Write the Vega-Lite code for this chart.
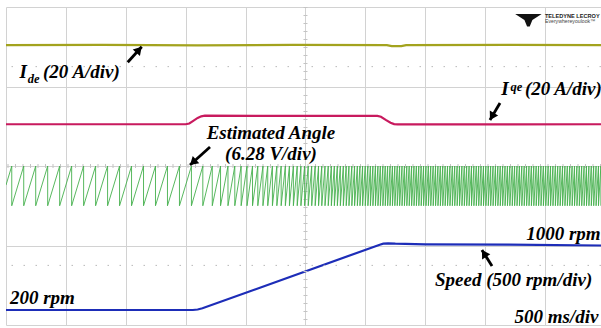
{
"$schema":"https://vega.github.io/schema/vega-lite/v6.json",
"width":595,"height":318,
"autosize":{"type":"none"},
"padding":{"left":6,"top":7,"right":0,"bottom":3},
"background":"white",
"config":{"view":{"stroke":null}},
"datasets":{
"tr":[
{"s":"Ide","t":0,"v":7.04},{"s":"Ide","t":0.8,"v":7.045},{"s":"Ide","t":1.6,"v":7.035},{"s":"Ide","t":2.4,"v":7.045},{"s":"Ide","t":3.18,"v":7.04},{"s":"Ide","t":3.22,"v":7.015},{"s":"Ide","t":3.3,"v":7.015},{"s":"Ide","t":3.34,"v":7.04},{"s":"Ide","t":4.2,"v":7.045},{"s":"Ide","t":4.967,"v":7.04},
{"s":"Iqe","t":0,"v":5.05},{"s":"Iqe","t":1.5,"v":5.05},{"s":"Iqe","t":1.53,"v":5.07},{"s":"Iqe","t":1.56,"v":5.13},{"s":"Iqe","t":1.6,"v":5.21},{"s":"Iqe","t":1.63,"v":5.25},{"s":"Iqe","t":1.66,"v":5.265},{"s":"Iqe","t":2.5,"v":5.26},{"s":"Iqe","t":3.1,"v":5.26},{"s":"Iqe","t":3.13,"v":5.24},{"s":"Iqe","t":3.17,"v":5.16},{"s":"Iqe","t":3.21,"v":5.09},{"s":"Iqe","t":3.24,"v":5.055},{"s":"Iqe","t":3.27,"v":5.045},{"s":"Iqe","t":4.967,"v":5.05},
{"s":"Spd","t":0,"v":0.377},{"s":"Spd","t":1.56,"v":0.377},{"s":"Spd","t":1.6,"v":0.39},{"s":"Spd","t":1.64,"v":0.42},{"s":"Spd","t":3.12,"v":2.02},{"s":"Spd","t":3.15,"v":2.045},{"s":"Spd","t":3.19,"v":2.055},{"s":"Spd","t":3.25,"v":2.045},{"s":"Spd","t":3.5,"v":2.03},{"s":"Spd","t":4.2,"v":2.02},{"s":"Spd","t":4.967,"v":2.0}
],
"ang":[
{"t":0,"v":3.52},
{"t":0.048,"v":4},{"t":0.048,"v":3},{"t":0.148,"v":4},{"t":0.148,"v":3},{"t":0.248,"v":4},{"t":0.248,"v":3},{"t":0.348,"v":4},{"t":0.348,"v":3},{"t":0.448,"v":4},{"t":0.448,"v":3},{"t":0.548,"v":4},{"t":0.548,"v":3},{"t":0.648,"v":4},{"t":0.648,"v":3},{"t":0.748,"v":4},{"t":0.748,"v":3},{"t":0.848,"v":4},{"t":0.848,"v":3},{"t":0.948,"v":4},{"t":0.948,"v":3},{"t":1.048,"v":4},{"t":1.048,"v":3},{"t":1.148,"v":4},{"t":1.148,"v":3},{"t":1.248,"v":4},{"t":1.248,"v":3},{"t":1.348,"v":4},{"t":1.348,"v":3},{"t":1.448,"v":4},{"t":1.448,"v":3},{"t":1.548,"v":4},{"t":1.548,"v":3},
{"t":1.643,"v":4},{"t":1.643,"v":3},{"t":1.722,"v":4},{"t":1.722,"v":3},{"t":1.791,"v":4},{"t":1.791,"v":3},{"t":1.853,"v":4},{"t":1.853,"v":3},{"t":1.91,"v":4},{"t":1.91,"v":3},{"t":1.963,"v":4},{"t":1.963,"v":3},{"t":2.012,"v":4},{"t":2.012,"v":3},{"t":2.058,"v":4},{"t":2.058,"v":3},{"t":2.102,"v":4},{"t":2.102,"v":3},{"t":2.145,"v":4},{"t":2.145,"v":3},{"t":2.185,"v":4},{"t":2.185,"v":3},{"t":2.224,"v":4},{"t":2.224,"v":3},{"t":2.261,"v":4},{"t":2.261,"v":3},{"t":2.297,"v":4},{"t":2.297,"v":3},{"t":2.332,"v":4},{"t":2.332,"v":3},{"t":2.366,"v":4},{"t":2.366,"v":3},{"t":2.399,"v":4},{"t":2.399,"v":3},{"t":2.431,"v":4},{"t":2.431,"v":3},{"t":2.462,"v":4},{"t":2.462,"v":3},{"t":2.493,"v":4},{"t":2.493,"v":3},{"t":2.523,"v":4},{"t":2.523,"v":3},{"t":2.552,"v":4},{"t":2.552,"v":3},{"t":2.581,"v":4},{"t":2.581,"v":3},{"t":2.609,"v":4},{"t":2.609,"v":3},{"t":2.636,"v":4},{"t":2.636,"v":3},{"t":2.663,"v":4},{"t":2.663,"v":3},{"t":2.69,"v":4},{"t":2.69,"v":3},{"t":2.716,"v":4},{"t":2.716,"v":3},{"t":2.741,"v":4},{"t":2.741,"v":3},{"t":2.766,"v":4},{"t":2.766,"v":3},{"t":2.791,"v":4},{"t":2.791,"v":3},{"t":2.816,"v":4},{"t":2.816,"v":3},{"t":2.84,"v":4},{"t":2.84,"v":3},{"t":2.863,"v":4},{"t":2.863,"v":3},{"t":2.887,"v":4},{"t":2.887,"v":3},{"t":2.91,"v":4},{"t":2.91,"v":3},{"t":2.933,"v":4},{"t":2.933,"v":3},{"t":2.955,"v":4},{"t":2.955,"v":3},{"t":2.977,"v":4},{"t":2.977,"v":3},{"t":2.999,"v":4},{"t":2.999,"v":3},{"t":3.021,"v":4},{"t":3.021,"v":3},{"t":3.042,"v":4},{"t":3.042,"v":3},{"t":3.063,"v":4},{"t":3.063,"v":3},{"t":3.084,"v":4},{"t":3.084,"v":3},{"t":3.105,"v":4},{"t":3.105,"v":3},{"t":3.125,"v":4},{"t":3.125,"v":3},{"t":3.146,"v":4},{"t":3.146,"v":3},
{"t":3.166,"v":4},{"t":3.166,"v":3},{"t":3.186,"v":4},{"t":3.186,"v":3},{"t":3.206,"v":4},{"t":3.206,"v":3},{"t":3.226,"v":4},{"t":3.226,"v":3},{"t":3.246,"v":4},{"t":3.246,"v":3},{"t":3.266,"v":4},{"t":3.266,"v":3},{"t":3.286,"v":4},{"t":3.286,"v":3},{"t":3.306,"v":4},{"t":3.306,"v":3},{"t":3.326,"v":4},{"t":3.326,"v":3},{"t":3.346,"v":4},{"t":3.346,"v":3},{"t":3.366,"v":4},{"t":3.366,"v":3},{"t":3.386,"v":4},{"t":3.386,"v":3},{"t":3.406,"v":4},{"t":3.406,"v":3},{"t":3.426,"v":4},{"t":3.426,"v":3},{"t":3.446,"v":4},{"t":3.446,"v":3},{"t":3.466,"v":4},{"t":3.466,"v":3},{"t":3.486,"v":4},{"t":3.486,"v":3},{"t":3.506,"v":4},{"t":3.506,"v":3},{"t":3.526,"v":4},{"t":3.526,"v":3},{"t":3.546,"v":4},{"t":3.546,"v":3},{"t":3.566,"v":4},{"t":3.566,"v":3},{"t":3.586,"v":4},{"t":3.586,"v":3},{"t":3.606,"v":4},{"t":3.606,"v":3},{"t":3.626,"v":4},{"t":3.626,"v":3},{"t":3.646,"v":4},{"t":3.646,"v":3},{"t":3.666,"v":4},{"t":3.666,"v":3},{"t":3.686,"v":4},{"t":3.686,"v":3},{"t":3.706,"v":4},{"t":3.706,"v":3},{"t":3.726,"v":4},{"t":3.726,"v":3},{"t":3.746,"v":4},{"t":3.746,"v":3},{"t":3.766,"v":4},{"t":3.766,"v":3},{"t":3.786,"v":4},{"t":3.786,"v":3},{"t":3.806,"v":4},{"t":3.806,"v":3},{"t":3.826,"v":4},{"t":3.826,"v":3},{"t":3.846,"v":4},{"t":3.846,"v":3},{"t":3.866,"v":4},{"t":3.866,"v":3},{"t":3.886,"v":4},{"t":3.886,"v":3},{"t":3.906,"v":4},{"t":3.906,"v":3},{"t":3.926,"v":4},{"t":3.926,"v":3},{"t":3.946,"v":4},{"t":3.946,"v":3},{"t":3.966,"v":4},{"t":3.966,"v":3},{"t":3.986,"v":4},{"t":3.986,"v":3},{"t":4.006,"v":4},{"t":4.006,"v":3},{"t":4.026,"v":4},{"t":4.026,"v":3},{"t":4.046,"v":4},{"t":4.046,"v":3},{"t":4.066,"v":4},{"t":4.066,"v":3},{"t":4.086,"v":4},{"t":4.086,"v":3},{"t":4.106,"v":4},{"t":4.106,"v":3},{"t":4.126,"v":4},{"t":4.126,"v":3},{"t":4.146,"v":4},{"t":4.146,"v":3},{"t":4.166,"v":4},{"t":4.166,"v":3},{"t":4.186,"v":4},{"t":4.186,"v":3},{"t":4.206,"v":4},{"t":4.206,"v":3},{"t":4.226,"v":4},{"t":4.226,"v":3},{"t":4.246,"v":4},{"t":4.246,"v":3},{"t":4.266,"v":4},{"t":4.266,"v":3},{"t":4.286,"v":4},{"t":4.286,"v":3},{"t":4.306,"v":4},{"t":4.306,"v":3},{"t":4.326,"v":4},{"t":4.326,"v":3},{"t":4.346,"v":4},{"t":4.346,"v":3},{"t":4.366,"v":4},{"t":4.366,"v":3},{"t":4.386,"v":4},{"t":4.386,"v":3},{"t":4.406,"v":4},{"t":4.406,"v":3},{"t":4.426,"v":4},{"t":4.426,"v":3},{"t":4.446,"v":4},{"t":4.446,"v":3},{"t":4.466,"v":4},{"t":4.466,"v":3},{"t":4.486,"v":4},{"t":4.486,"v":3},{"t":4.506,"v":4},{"t":4.506,"v":3},{"t":4.526,"v":4},{"t":4.526,"v":3},{"t":4.546,"v":4},{"t":4.546,"v":3},{"t":4.566,"v":4},{"t":4.566,"v":3},{"t":4.586,"v":4},{"t":4.586,"v":3},{"t":4.606,"v":4},{"t":4.606,"v":3},{"t":4.626,"v":4},{"t":4.626,"v":3},{"t":4.646,"v":4},{"t":4.646,"v":3},{"t":4.666,"v":4},{"t":4.666,"v":3},{"t":4.686,"v":4},{"t":4.686,"v":3},{"t":4.706,"v":4},{"t":4.706,"v":3},{"t":4.726,"v":4},{"t":4.726,"v":3},{"t":4.746,"v":4},{"t":4.746,"v":3},{"t":4.766,"v":4},{"t":4.766,"v":3},{"t":4.786,"v":4},{"t":4.786,"v":3},{"t":4.806,"v":4},{"t":4.806,"v":3},{"t":4.826,"v":4},{"t":4.826,"v":3},{"t":4.846,"v":4},{"t":4.846,"v":3},{"t":4.866,"v":4},{"t":4.866,"v":3},{"t":4.886,"v":4},{"t":4.886,"v":3},{"t":4.906,"v":4},{"t":4.906,"v":3},{"t":4.926,"v":4},{"t":4.926,"v":3},{"t":4.946,"v":4},{"t":4.946,"v":3},{"t":4.966,"v":4},{"t":4.966,"v":3}
],
"dotsH":[{"v":6.5},{"v":1.5}],
"arrows":[
{"t":1.016,"v":6.609,"t2":1.133,"v2":7.001,"ang":42},
{"t":4.124,"v":5.585,"t2":4.04,"v2":5.157,"ang":210},
{"t":1.703,"v":4.478,"t2":1.536,"v2":4.025,"ang":228},
{"t":4.057,"v":1.484,"t2":3.973,"v2":1.887,"ang":328}
],
"big":[
{"t":0.112,"v":6.214,"txt":"I"},
{"t":0.309,"v":6.214,"txt":"(20 A/div)"},
{"t":4.135,"v":5.786,"txt":"I"},
{"t":4.332,"v":5.786,"txt":"(20 A/div)"},
{"t":4.342,"v":2.138,"txt":"1000 rpm"},
{"t":3.581,"v":0.981,"txt":"Speed (500 rpm/div)"},
{"t":0.033,"v":0.528,"txt":"200 rpm"},
{"t":4.245,"v":0.05,"txt":"500 ms/div"}
],
"sub":[
{"t":0.182,"v":6.1,"txt":"de"},
{"t":4.212,"v":5.88,"txt":"qe"}
],
"center":[
{"t":2.212,"v":4.679,"txt":"Estimated Angle"},
{"t":2.212,"v":4.151,"txt":"(6.28 V/div)"}
],
"logo":[{"t":4.361,"v":7.673}],
"logo1":[{"t":4.499,"v":7.716,"txt":"TELEDYNE LECROY"}],
"logo2":[{"t":4.499,"v":7.6,"txt":"Everywhereyoulook™"}]
},
"layer":[
{"data":{"name":"tr"},
 "mark":{"type":"line","strokeWidth":2.2,"interpolate":"linear"},
 "encoding":{
  "x":{"field":"t","type":"quantitative","scale":{"domain":[0,4.967],"nice":false,"zero":false},
       "axis":{"values":[0,0.5,1,1.5,2,2.5,3,3.5,4,4.5],"grid":true,"gridColor":"#d2d2d2","gridWidth":1,"labels":false,"ticks":false,"domain":false,"title":null}},
  "y":{"field":"v","type":"quantitative","scale":{"domain":[0,8],"nice":false,"zero":false},
       "axis":{"values":[0,1,2,3,4,5,6,7,8],"grid":true,"gridColor":"#d2d2d2","gridWidth":1,"labels":false,"ticks":false,"domain":false,"title":null}},
  "color":{"field":"s","type":"nominal","scale":{"domain":["Ide","Iqe","Spd"],"range":["#a3a31e","#c81a5e","#1d2db8"]},"legend":null}
 }},
{"data":{"name":"dotsH"},"mark":{"type":"rule","color":"#b8b8b8","strokeWidth":1,"strokeDash":[1.5,10.5]},
 "encoding":{"y":{"field":"v","type":"quantitative"}}},
{"data":{"values":[{"v":4}]},"mark":{"type":"rule","color":"#c4c4c4","strokeWidth":4,"strokeDash":[1,6.5]},
 "encoding":{"y":{"field":"v","type":"quantitative"}}},
{"data":{"values":[{"t":2.5}]},"mark":{"type":"rule","color":"#c4c4c4","strokeWidth":4,"strokeDash":[1,7]},
 "encoding":{"x":{"field":"t","type":"quantitative"}}},
{"data":{"name":"ang"},
 "mark":{"type":"line","strokeWidth":0.9,"color":"#45b04d","clip":true},
 "encoding":{"x":{"field":"t","type":"quantitative"},"y":{"field":"v","type":"quantitative"},"order":{"value":null}}},
{"data":{"name":"arrows"},"mark":{"type":"rule","color":"black","strokeWidth":2.8},
 "encoding":{"x":{"field":"t","type":"quantitative"},"y":{"field":"v","type":"quantitative"},"x2":{"field":"t2"},"y2":{"field":"v2"}}},
{"data":{"name":"arrows"},"mark":{"type":"point","filled":true,"color":"black","opacity":1,"shape":"M0,0L0.6,1L-0.6,1Z","size":260},
 "encoding":{"x":{"field":"t2","type":"quantitative"},"y":{"field":"v2","type":"quantitative"},"angle":{"field":"ang","type":"quantitative","scale":null}}},
{"data":{"name":"big"},"mark":{"type":"text","font":"Liberation Serif","fontStyle":"italic","fontWeight":"bold","fontSize":19,"align":"left","baseline":"alphabetic","color":"black"},
 "encoding":{"x":{"field":"t","type":"quantitative"},"y":{"field":"v","type":"quantitative"},"text":{"field":"txt"}}},
{"data":{"name":"sub"},"mark":{"type":"text","font":"Liberation Serif","fontStyle":"italic","fontWeight":"bold","fontSize":12.5,"align":"left","baseline":"alphabetic","color":"black"},
 "encoding":{"x":{"field":"t","type":"quantitative"},"y":{"field":"v","type":"quantitative"},"text":{"field":"txt"}}},
{"data":{"name":"center"},"mark":{"type":"text","font":"Liberation Serif","fontStyle":"italic","fontWeight":"bold","fontSize":19,"align":"center","baseline":"alphabetic","color":"black"},
 "encoding":{"x":{"field":"t","type":"quantitative"},"y":{"field":"v","type":"quantitative"},"text":{"field":"txt"}}},
{"data":{"name":"logo"},"mark":{"type":"point","filled":true,"color":"#111111","opacity":1,"shape":"M-1,-0.45L1,-0.45L0.3,0L0.1,0.5L-0.1,0.5L-0.3,0Z","size":700},
 "encoding":{"x":{"field":"t","type":"quantitative"},"y":{"field":"v","type":"quantitative"}}},
{"data":{"name":"logo1"},"mark":{"type":"text","font":"Liberation Sans","fontWeight":"bold","fontSize":5.6,"align":"left","baseline":"alphabetic","color":"#222222"},
 "encoding":{"x":{"field":"t","type":"quantitative"},"y":{"field":"v","type":"quantitative"},"text":{"field":"txt"}}},
{"data":{"name":"logo2"},"mark":{"type":"text","font":"Liberation Sans","fontSize":5.2,"align":"left","baseline":"alphabetic","color":"#444444"},
 "encoding":{"x":{"field":"t","type":"quantitative"},"y":{"field":"v","type":"quantitative"},"text":{"field":"txt"}}}
]
}
